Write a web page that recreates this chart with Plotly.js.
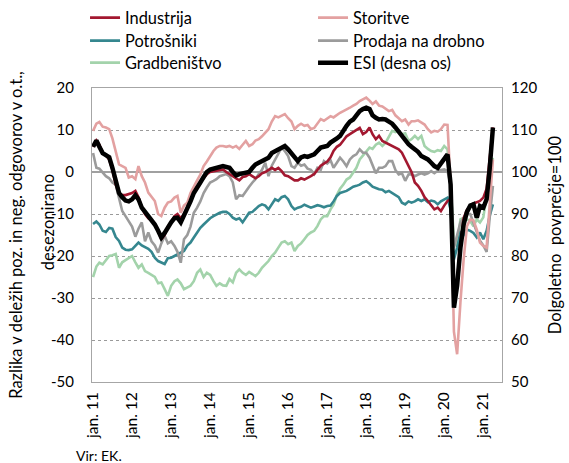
<!DOCTYPE html>
<html>
<head>
<meta charset="utf-8">
<script src="https://cdn.plot.ly/plotly-3.0.1.min.js"></script>
<style>html,body{margin:0;padding:0;background:#fff;}#chart{width:569px;height:463px;}</style>
</head>
<body>
<div id="chart"></div>
<script>
// Monthly observations, Jan 2011 .. Apr 2021 (124 months)
const startYear = 2011, startMonth = 1, nMonths = 124;

const industrija = [
  6, 7.5, 6.5, 4.5, 4, 3, 0.5, -3, -5, -5.5, -5.5, -5.3,
  -5, -4.5, -6, -8.5, -10, -11, -11.5, -12.5, -14, -16, -15, -13,
  -12, -10.5, -10, -11, -10, -8.5, -7, -5, -3.5, -2.5, -1.5, -0.5,
  0, 0.2, 0.2, 0.5, 0.6, 0, -0.5, -1, -1.5, -2, -1.2, -1,
  -0.5, -1, -1.5, -1, -0.3, 0, 0.6, 1, 0.5, 1, 0.2, -0.8,
  -1, -1.5, -2, -2, -1.5, -1.8, -1.5, -1, -0.5, 0.5, 1.5, 2,
  2.5, 3.5, 5, 6, 6.5, 7.5, 8.5, 9, 9.5, 9.8, 10.5, 9,
  9.5, 10.6, 9, 7.8, 8.6, 7.4, 7, 6.6, 6.2, 5.8, 5.4, 4.6,
  3, 1.5, 0, -2.5, -3.3, -4.5, -6, -6.9, -8, -8.9, -8.5, -9.3,
  -8, -6.9, -6.5, -30, -26, -17, -11, -9, -8, -7.5, -7.2, -6.9, -6.1, -4, 3, 10.6
];
const storitve = [
  9.8, 11.5, 11.9, 10.8, 10.6, 10.2, 8, 4.5, 1.8, 1.4, 1, -1.3,
  -1, -1.7, 1.4, -1, -2.5, -4.9, -5.8, -6.9, -10, -10.5, -8.5, -7.3,
  -7, -6.1, -5.7, -9.7, -8, -7.3, -5, -3.3, -2, -0.6, 1.4, 2.5,
  3.8, 5, 5.8, 6.2, 6.2, 6, 6.2, 5.8, 6.2, 5.5, 6.5, 7.4,
  6.2, 6.6, 7.5, 7.8, 8.5, 9.4, 10.2, 12, 13.3, 13, 13.5, 13.8,
  12.8, 12, 10.2, 11, 11.5, 11, 11.2, 10.2, 10.5, 11.5, 12.6, 12.2,
  12.8, 13.3, 13, 13.6, 14.1, 14.5, 14.8, 15.3, 15.8, 16.2, 16.9, 17.2,
  17.7, 17, 16.2, 16.8, 15.8, 15.6, 15, 14.5, 14.8, 13.5, 12.8, 12.1,
  12.5, 11.3, 12.1, 12.1, 12.3, 11.7, 11.3, 10.2, 9.4, 9.8, 9.6, 10.2,
  11.3, 11.2, -3, -38, -43.4, -31, -20.8, -12.9, -11.3, -11.5, -13.7, -16.8, -17.6, -18, -9, 3
];
const potrosniki = [
  -12.4, -11.8, -12.5, -14, -14.3, -13.3, -13.5, -15.5, -16.4, -18, -18.5, -18.6,
  -18.4, -17.5, -16.8, -17.5, -17.8, -18.3, -19, -20.4, -21.2, -21.5, -21.9, -20.5,
  -20.4, -20, -19.6, -19.2, -18.8, -17.5, -16.8, -15.6, -14.4, -13.3, -12.5, -11.7,
  -11, -10.5, -10.1, -9.7, -9.5, -9.5, -10, -10.9, -11.3, -11, -12, -11,
  -9.7, -9.5, -8.9, -8.1, -7.7, -8, -8.9, -7.7, -6.5, -6.9, -6, -5.7,
  -6.5, -8.1, -8.9, -8.5, -8.3, -7.8, -8.1, -8.5, -8.2, -7.9, -8.1, -8.4,
  -8.1, -8, -7, -5.7, -5, -4.8, -4.5, -4, -3.5, -3.3, -3, -2.5,
  -2.2, -2.8, -3.5, -3.8, -4.1, -4.2, -4.8, -4.5, -5, -5.3, -6, -7.3,
  -7.7, -7, -7.3, -7, -6.5, -6.9, -6.5, -7.2, -6.8, -7, -7.7, -7,
  -6.5, -6.1, -9, -20.8, -18, -14.4, -15, -13.7, -14, -14.5, -15.6, -14.4, -16, -14, -10.5, -7.7
];
const prodaja = [
  4.5, 1, 0.8, 0, -1, -1.5, -2.5, -3, -6, -9.3, -10.5, -11.7,
  -13, -15.4, -13.5, -12, -16.5, -14.4, -16.5, -17.5, -19.2, -17, -15.2, -17,
  -16.5, -17.6, -19, -21.6, -16, -15, -13, -9.7, -8.5, -7, -5, -3.7,
  -2.5, -2.1, -1.7, -1, -0.8, -0.5, -1, -2.5, -6.5, -5.5, -5.7, -4.5,
  -3.5, -2.5, -1.7, -0.5, 0.5, 2.2, -1, 1.5, 3, 4.6, 5.8, 5,
  3.8, 1.4, 1, 2.2, 1.5, 1.8, 0.8, 0.5, -0.5, 1, 0.5, 2.6,
  2, 2.8, 1, 2.2, 3.4, 2.5, 1.4, 3, 3.8, 4.2, 5.4, 4.6,
  4.6, 3.4, 1.4, -0.3, 1, 1, 1.4, 2.6, 2.6, 0.5, -0.6, -0.3,
  -2.1, -0.6, -0.5, -1, -0.6, -0.3, -0.6, -0.3, 0.2, -0.3, 0.3, 0.5,
  0.6, 0.2, -3, -18, -15, -12, -11, -10, -10, -12, -14, -16.4, -17.5, -19, -11, -3.3
];
const gradbenistvo = [
  -25, -22.5, -21.6, -22, -21, -20, -19.8, -19.5, -22.8, -21.5, -21, -20.5,
  -20, -21.5, -22.8, -22, -23.6, -24, -24.4, -25, -26.5, -26.3, -27.9, -29.5,
  -27.1, -26, -25.6, -26.5, -27.9, -27.5, -27.1, -26, -24, -23.2, -25, -24,
  -24.5, -26, -27.1, -26.5, -27, -27.1, -25.5, -26.3, -24, -23.2, -24, -24.5,
  -23.8, -24.3, -24.8, -24, -22.8, -22, -21.2, -20, -19.2, -18, -16.8, -16.5,
  -17.2, -16.8, -18.8, -17.6, -17, -16, -15, -14.4, -14, -12.9, -11.3, -10.5,
  -10.5, -8.9, -7.8, -5.5, -4, -3, -1.8, -1.3, 0, 1, 3, 4,
  5, 5.8, 5.5, 6.5, 7, 6.2, 7, 8.6, 9.8, 9.5, 9.8, 9,
  9.2, 7.4, 7.8, 8.6, 7.8, 8.6, 6.2, 5.5, 5, 4.8, 5.2, 5,
  6.2, 5.4, -3, -16, -17.6, -11.3, -10.9, -11.3, -11.7, -12.9, -11.3, -12, -10.8, -5.7, -0.2, 3.4
];
const esi = [
  106, 107.5, 106, 104.5, 104, 103.5, 101, 97.5, 95, 94, 93.2, 93,
  93.5, 94.5, 93.5, 91.5, 90.5, 89.5, 88.8, 87.5, 86, 84.4, 85.5, 87,
  88, 89, 89.1, 88, 89.5, 91, 93, 95, 96.5, 97.5, 98.8, 100,
  100.6, 100.8, 101, 101, 101.4, 101.2, 101, 100, 99.2, 99.5, 99.7, 99.8,
  100, 101, 101.8, 102.2, 102.6, 103, 103.4, 104.5, 105, 105.5, 105.8, 106.2,
  105.4, 104.5, 103.4, 102.6, 103.5, 103.8, 103.6, 103.8, 104.2, 105, 105.8, 106,
  106.2, 107, 107.4, 108, 108.6, 110, 111, 112, 112.5, 113.5, 114.5, 115,
  115.3, 115, 113.5, 112.9, 112.5, 112.6, 112.5, 112, 111.5, 110.6, 109.5, 108.6,
  107.5, 106.6, 106, 105.4, 104.8, 103.8, 103.4, 103, 102.2, 101.4, 101, 102,
  103, 104.2, 97, 67.7, 73, 82, 87.5, 90.5, 92, 92.3, 89.1, 91.9, 91.5, 93.5, 100.6, 110.6
];

const tickYears = [2011, 2012, 2013, 2014, 2015, 2016, 2017, 2018, 2019, 2020, 2021];
const tickLabels = ['jan. 11','jan. 12','jan. 13','jan. 14','jan. 15','jan. 16','jan. 17','jan. 18','jan. 19','jan. 20','jan. 21'];
const leftTicks = [20, 10, 0, -10, -20, -30, -40, -50];
const rightTicks = [120, 110, 100, 90, 80, 70, 60, 50];

// month dates for x axis
const months = [];
for (let i = 0; i < nMonths; i++) {
  const y = startYear + Math.floor((startMonth - 1 + i) / 12);
  const m = ((startMonth - 1 + i) % 12) + 1;
  months.push(y + '-' + (m < 10 ? '0' + m : m) + '-01');
}
const tickVals = tickYears.map(y => y + '-01-01');

const FONT = 'Lato, "Liberation Sans", Arial, sans-serif';
const NB = '\u00a0';

function line(name, y, color, width, rank, legendId, axis) {
  return {
    type: 'scatter', mode: 'lines', name: name, x: months, y: y,
    line: {color: color, width: width},
    yaxis: axis || 'y', legend: legendId, legendrank: rank, hoverinfo: 'skip'
  };
}

const traces = [
  line('Gradbeništvo', gradbenistvo, '#a3d3ab', 2.6, 1, 'legend3'),
  line('Potrošniki', potrosniki, '#35878f', 2.6, 1, 'legend2'),
  line('Prodaja na drobno', prodaja, '#9b9b9b', 2.6, 2, 'legend2'),
  line('Storitve', storitve, '#e3a1a1', 2.6, 2, 'legend'),
  line('Industrija', industrija, '#a31830', 2.6, 1, 'legend'),
  line('ESI (desna os)', esi, '#000000', 4.5, 2, 'legend3', 'y2')
];

function legendRow(yPaper) {
  return {
    orientation: 'h', x: -0.017, xanchor: 'left', y: yPaper, yanchor: 'middle',
    entrywidth: 183, traceorder: 'normal', font: {family: FONT, size: 16.4, color: '#000'},
    bgcolor: 'rgba(0,0,0,0)', tracegroupgap: 0
  };
}

const layout = {
  width: 569, height: 463,
  margin: {l: 92, r: 67, t: 88, b: 81, autoexpand: false},
  paper_bgcolor: '#ffffff', plot_bgcolor: '#ffffff',
  font: {family: FONT, size: 15, color: '#000'},
  showlegend: true,
  legend: legendRow(1.2381),
  legend2: legendRow(1.1599),
  legend3: legendRow(1.0850),
  xaxis: {
    type: 'date', range: ['2010-12-22', '2021-06-25'],
    tickvals: tickVals, ticktext: tickLabels, tickangle: -90,
    ticks: '', showgrid: false, zeroline: false,
    showline: true, linecolor: '#a6a6a6', linewidth: 1, mirror: true,
    tickfont: {family: FONT, size: 15.5, color: '#000'}, ticklabelstandoff: 3
  },
  yaxis: {
    range: [-50, 20], tickvals: leftTicks, ticktext: leftTicks.map(String),
    showgrid: true, gridcolor: '#9a9a9a', griddash: 'dot', gridwidth: 1,
    zeroline: true, zerolinecolor: '#a0a0a0', zerolinewidth: 1.5,
    showline: true, linecolor: '#a6a6a6', linewidth: 1,
    ticks: '', ticklabelstandoff: 14,
    tickfont: {family: FONT, size: 15, color: '#000'},
    title: {text: 'Razlika v deležih poz. in neg. odgovorov v o.t.,' + NB.repeat(6), standoff: 24,
            font: {family: FONT, size: 16.5, color: '#000'}}
  },
  yaxis2: {
    overlaying: 'y', side: 'right', range: [50, 120],
    tickvals: rightTicks, ticktext: rightTicks.map(String),
    showgrid: false, zeroline: false, showline: true, linecolor: '#a6a6a6', linewidth: 1,
    ticks: '', ticklabelstandoff: 5,
    tickfont: {family: FONT, size: 15, color: '#000'},
    title: {text: 'Dolgoletno' + NB + ' povprečje=100', standoff: 13,
            font: {family: FONT, size: 16.5, color: '#000'}}
  },
  annotations: [
    {
      text: 'desezonirano', xref: 'paper', yref: 'paper', x: -0.107, y: 0.544,
      xanchor: 'center', yanchor: 'middle', textangle: -90, showarrow: false,
      font: {family: FONT, size: 16.5, color: '#000'}
    },
    {
      text: 'Vir: EK.', xref: 'paper', yref: 'paper', x: -0.044, y: -0.25,
      xanchor: 'left', yanchor: 'middle', showarrow: false,
      font: {family: FONT, size: 14, color: '#000'}
    }
  ]
};

Plotly.newPlot('chart', traces, layout, {displayModeBar: false, staticPlot: true});
</script>
</body>
</html>
